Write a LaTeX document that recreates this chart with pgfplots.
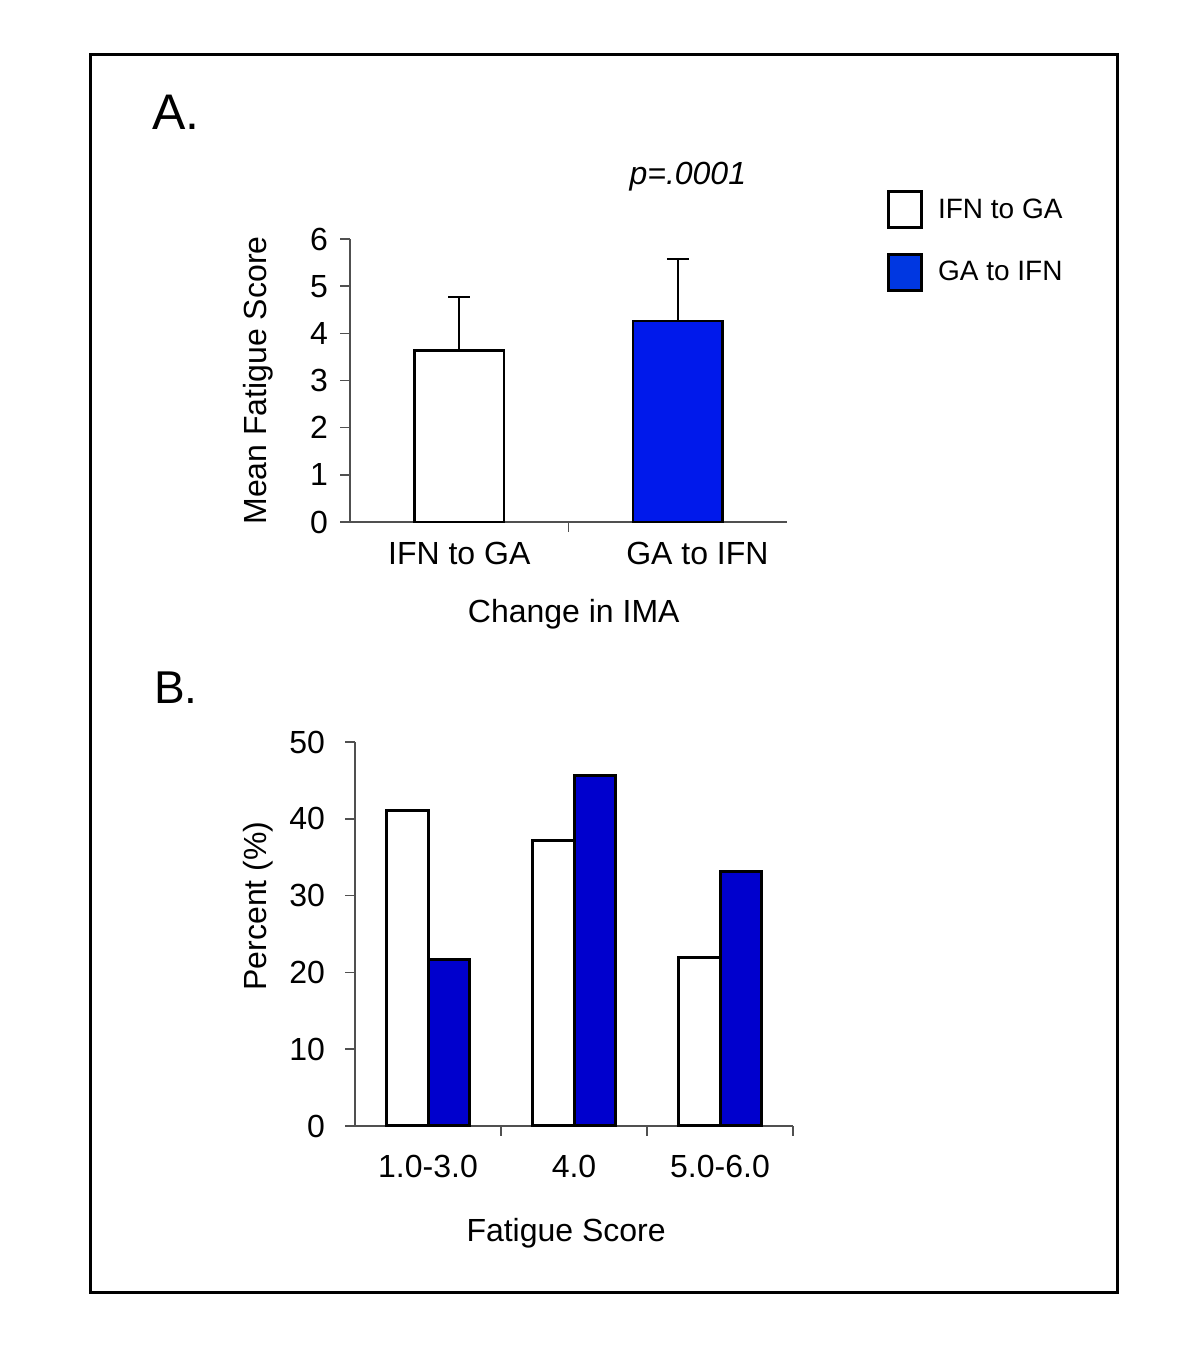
\documentclass[border=0pt]{standalone}
\usepackage{fontspec}
\setmainfont{Liberation Sans}
\usepackage{pgfplots}
\pgfplotsset{compat=1.18}
\definecolor{blueA}{RGB}{0,25,235}
\definecolor{blueL}{RGB}{0,55,225}
\definecolor{blueB}{RGB}{0,0,205}
\definecolor{axgray}{RGB}{80,80,80}
\newcommand{\fs}{\fontsize{16}{19}\selectfont}
\begin{document}
\begin{tikzpicture}
\useasboundingbox (0,0) rectangle (600pt,681.5pt);
\draw[line width=1.5pt] (45pt,654pt) rectangle (558.5pt,35pt);
\node[font=\fontsize{25}{30}\selectfont] at (88pt,625.5pt) {A.};
\node[font=\fontsize{23}{28}\selectfont] at (88pt,337.5pt) {B.};

% ---------- Panel A ----------
\begin{axis}[
  at={(175pt,420.5pt)}, anchor=south west,
  width=218.5pt, height=141.5pt, scale only axis,
  xmin=-0.5, xmax=1.5, ymin=0, ymax=6,
  axis x line*=bottom, axis y line*=left,
  ytick={0,1,2,3,4,5,6},
  xtick={0.5}, xticklabels={},
  extra x ticks={0,1.09}, extra x tick labels={IFN to GA,GA to IFN},
  extra x tick style={major tick length=0pt},
  tick align=outside, major tick length=5pt,
  axis line style={axgray, line width=0.75pt},
  tick style={axgray, line width=0.75pt},
  tick label style={font=\fs},
  yticklabel style={xshift=-2.5pt},
  xticklabel style={yshift=-6.5pt},
  /pgf/number format/assume math mode=true,
  ylabel={Mean Fatigue Score},
  ylabel style={at={(axis description cs:-0.21,0.5)}, anchor=center, font=\fs},
  xlabel={Change in IMA},
  xlabel style={at={(axis description cs:0.512,-0.325)}, anchor=center, font=\fs},
  legend style={draw=none, fill=none, at={(1.229,1.173)}, anchor=north west,
    font=\fontsize{14}{17}\selectfont, row sep=12pt, inner sep=0pt,
    nodes={inner sep=0pt}, cells={anchor=west}},
  clip=false,
]
\addplot[ybar, bar shift=0pt, bar width=0.408, fill=white, draw=black, line width=1.3pt,
  legend image code/.code={\draw[fill=white, draw=black, line width=1.3pt] (0pt,-9pt) rectangle (16.5pt,9pt); \path (24pt,0pt);},
  error bars/.cd, y dir=plus, y explicit,
  error bar style={line width=1pt, black},
  error mark options={rotate=90, mark size=5.5pt, line width=1pt, black}]
  coordinates {(0,3.64) +- (0,1.13)};
\addplot[ybar, bar shift=0pt, bar width=0.408, fill=blueA, draw=black, line width=1.3pt,
  legend image code/.code={\draw[fill=blueL, draw=black, line width=1.3pt] (0pt,-9pt) rectangle (16.5pt,9pt); \path (24pt,0pt);},
  error bars/.cd, y dir=plus, y explicit,
  error bar style={line width=1pt, black},
  error mark options={rotate=90, mark size=5.5pt, line width=1pt, black}]
  coordinates {(1,4.26) +- (0,1.31)};
\legend{IFN to GA, GA to IFN}
\node[font=\itshape\fs] at (rel axis cs:0.773,1.219) {p=.0001};
\end{axis}

% ---------- Panel B ----------
\begin{axis}[
  at={(177.5pt,118.5pt)}, anchor=south west,
  width=219pt, height=192pt, scale only axis,
  xmin=-0.5, xmax=2.5, ymin=0, ymax=50,
  axis x line*=bottom, axis y line*=left,
  ytick={0,10,20,30,40,50},
  xtick={0.5,1.5,2.5}, xticklabels={},
  extra x ticks={0,1,2}, extra x tick labels={1.0-3.0,4.0,5.0-6.0},
  extra x tick style={major tick length=0pt},
  tick align=outside, major tick length=5pt,
  axis line style={axgray, line width=0.75pt},
  tick style={axgray, line width=0.75pt},
  tick label style={font=\fs},
  yticklabel style={xshift=-6.5pt},
  xticklabel style={yshift=-11pt},
  /pgf/number format/assume math mode=true,
  ylabel={Percent (\%)},
  ylabel style={at={(axis description cs:-0.222,0.573)}, anchor=center, font=\fs},
  xlabel={Fatigue Score},
  xlabel style={at={(axis description cs:0.482,-0.28)}, anchor=center, font=\fs},
  clip=false,
]
\addplot[ybar, bar shift=-0.142, bar width=0.284, fill=white, draw=black, line width=1.5pt]
  coordinates {(0,41.1) (1,37.2) (2,21.9)};
\addplot[ybar, bar shift=0.142, bar width=0.284, fill=blueB, draw=black, line width=1.5pt]
  coordinates {(0,21.7) (1,45.6) (2,33.2)};
\end{axis}
\end{tikzpicture}
\end{document}
